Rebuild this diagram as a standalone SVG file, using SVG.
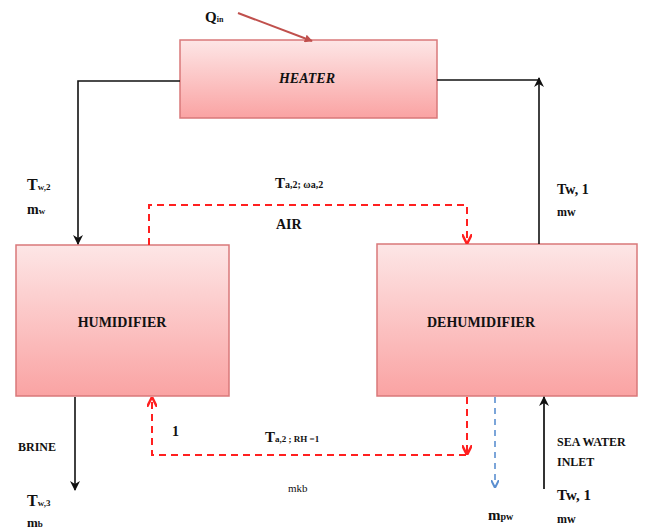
<svg xmlns="http://www.w3.org/2000/svg" width="651" height="532" viewBox="0 0 651 532">
<style>
.box{fill:url(#g);stroke:#d9787a;stroke-width:1.5}
.t{font-family:"Liberation Serif",serif;font-weight:bold;fill:#111}
.bl{stroke:#111;stroke-width:1.6;fill:none}
.rd{stroke:#ff2020;stroke-width:2;stroke-dasharray:7,5;fill:none}
.bd{stroke:#5b8fd0;stroke-width:1.6;stroke-dasharray:6,5;fill:none}
</style>
<defs>
<linearGradient id="g" x1="0" y1="0" x2="0" y2="1">
<stop offset="0" stop-color="#fde6e6"/>
<stop offset="1" stop-color="#faa3a3"/>
</linearGradient>
<marker id="ar" viewBox="0 0 10 10" refX="9" refY="5" markerWidth="5" markerHeight="5" orient="auto"><path d="M0,0 L10,5 L0,10" fill="none" stroke="#ff2020" stroke-width="2.5"/></marker>
<marker id="ab" viewBox="0 0 10 10" refX="9" refY="5" markerWidth="5" markerHeight="5" orient="auto"><path d="M0,0 L10,5 L0,10" fill="none" stroke="#5b8fd0" stroke-width="2.5"/></marker>
<marker id="aq" viewBox="0 0 10 10" refX="9" refY="5" markerWidth="4" markerHeight="4" orient="auto"><path d="M0,0 L10,5 L0,10 z" fill="#c0504d"/></marker>
<marker id="akk" viewBox="0 0 10 10" refX="9" refY="5" markerWidth="10" markerHeight="10" orient="auto" markerUnits="userSpaceOnUse"><path d="M0,0 L10,5 L0,10 L3,5 z" fill="#111"/></marker>
</defs>
<g id="heater"><rect class="box" x="180" y="40" width="257" height="78"/><text class="t" x="307" y="83" font-size="14" font-style="italic" text-anchor="middle">HEATER</text></g>
<g id="humidifier"><rect class="box" x="16" y="245" width="213" height="151"/><text class="t" x="122" y="327" font-size="14" text-anchor="middle">HUMIDIFIER</text></g>
<g id="dehumidifier"><rect class="box" x="377" y="244" width="260" height="152"/><text class="t" x="481" y="327" font-size="14" text-anchor="middle">DEHUMIDIFIER</text></g>
<g id="connectors">
<path class="bl" d="M180,81 H78 V244" marker-end="url(#akk)"/>
<path class="bl" d="M539,244 V78" marker-end="url(#akk)"/>
<path class="bl" d="M437,80 H539"/>
<path d="M238,13 L312,41" stroke="#c0504d" stroke-width="2" fill="none" marker-end="url(#aq)"/>
<path class="rd" d="M149,245 V205 H467 V243" marker-end="url(#ar)"/>
<path class="rd" d="M467,397 V454" marker-end="url(#ar)"/>
<path class="rd" d="M466,455 H152 V398" marker-end="url(#ar)"/>
<path class="bd" d="M495,397 V487" marker-end="url(#ab)"/>
<path stroke="#333" stroke-width="2" fill="none" d="M544,489 V397" marker-end="url(#akk)"/>
<path class="bl" d="M75,397 V490" marker-end="url(#akk)"/>
</g>
<g id="labels">
<text class="t" x="205" y="22" font-size="15">Q<tspan font-size="8">in</tspan></text>
<text class="t" x="27" y="190" font-size="16">T<tspan font-size="9">w,2</tspan></text>
<text class="t" x="27" y="214" font-size="14">m<tspan font-size="9">w</tspan></text>
<text class="t" x="275" y="188" font-size="15">T<tspan font-size="10">a,2; ωa,2</tspan></text>
<text class="t" x="276" y="229" font-size="14">AIR</text>
<text class="t" x="557" y="194" font-size="14">Tw, 1</text>
<text class="t" x="557" y="216" font-size="12">mw</text>
<text class="t" x="172" y="436" font-size="14">1</text>
<text class="t" x="265" y="442" font-size="15">T<tspan font-size="9">a,2 ; RH =1</tspan></text>
<text x="288" y="492" font-size="11" font-family="Liberation Serif,serif" fill="#111">mkb</text>
<text class="t" x="18" y="451" font-size="12">BRINE</text>
<text class="t" x="27" y="506" font-size="16">T<tspan font-size="9">w,3</tspan></text>
<text class="t" x="27" y="527" font-size="13">m<tspan font-size="9">b</tspan></text>
<text class="t" x="488" y="520" font-size="15">m<tspan font-size="10">pw</tspan></text>
<text class="t" x="557" y="446" font-size="12">SEA WATER</text>
<text class="t" x="557" y="466" font-size="12">INLET</text>
<text class="t" x="557" y="500" font-size="15">Tw, 1</text>
<text class="t" x="557" y="523" font-size="12">mw</text>
</g>
</svg>
